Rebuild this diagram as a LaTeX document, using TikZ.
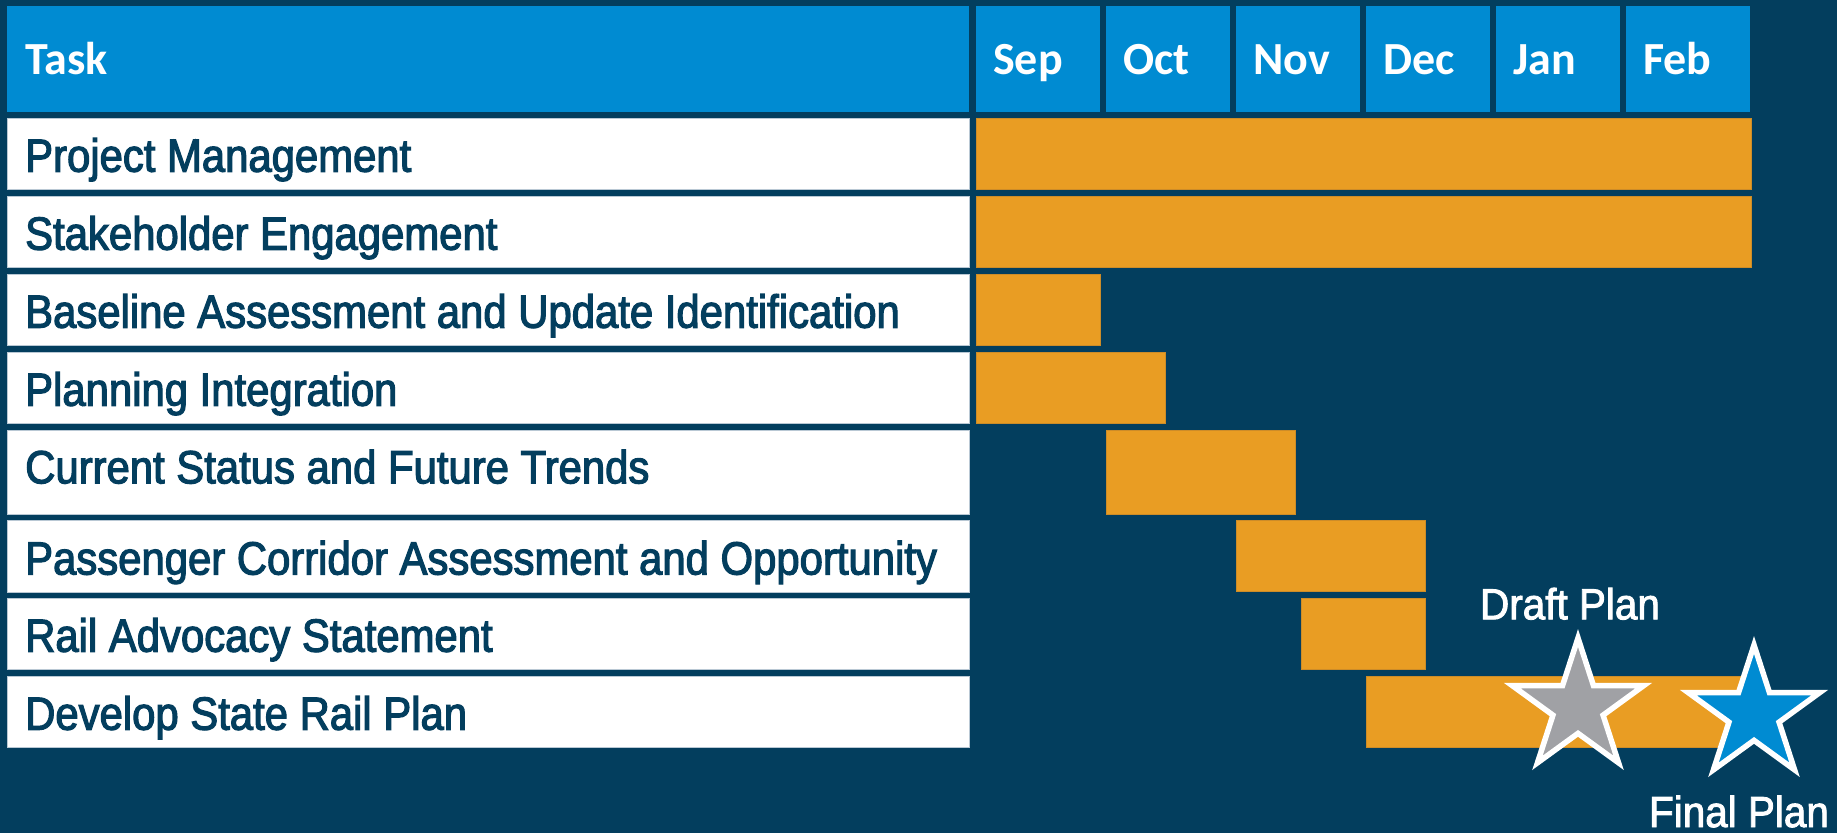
\documentclass[tikz,border=0pt]{standalone}
\usepackage{fontspec}
\setmainfont{Liberation Sans}
\newfontfamily\taskfont[FakeStretch=0.9,FakeBold=2.5]{Liberation Sans}
\newfontfamily\labfont[FakeStretch=0.93,FakeBold=2]{Liberation Sans}
\newfontfamily\headfont{Carlito}
\usetikzlibrary{shapes.geometric}
\definecolor{bgnavy}{RGB}{3,62,94}
\definecolor{headblue}{RGB}{0,139,210}
\definecolor{barorange}{RGB}{233,157,35}
\definecolor{stargray}{RGB}{160,161,165}
\definecolor{celledge}{RGB}{185,200,212}
\definecolor{baredge}{RGB}{205,140,40}
\tikzset{
  headcell/.style={fill=headblue},
  taskcell/.style={fill=white, draw=celledge, line width=0.8pt},
  gbar/.style={fill=barorange, draw=baredge, line width=0.6pt},
  headtext/.style={anchor=base west, inner sep=0pt, text=white, font=\headfont\bfseries\fontsize{46}{50}\selectfont},
  tasktext/.style={anchor=base west, inner sep=0pt, text=bgnavy, font=\taskfont\fontsize{46.5}{50}\selectfont},
  labtext/.style={anchor=base, inner sep=0pt, text=white, font=\labfont\fontsize{43.5}{48}\selectfont},
  milestone/.style={star, star points=5, star point ratio=2.618, minimum size=138pt, inner sep=0pt, outer sep=0pt, draw=white, line width=5.5pt, miter limit=10}
}
\begin{document}
\begin{tikzpicture}[x=1pt,y=-1pt]
\fill[bgnavy] (0,0) rectangle (1837,833);
\useasboundingbox (0,0) rectangle (1837,833);
% header
\fill[headcell] (7,6) rectangle (969.3,112);
\foreach \i in {0,...,5}{
  \fill[headcell] ({976+130*\i},6) rectangle ({1100+130*\i},112);
}
\node[headtext] (hTask) at (25,74) {Task};
\node[headtext] (hSep) at (993,74) {Sep};
\node[headtext] (hOct) at (1123,74) {Oct};
\node[headtext] (hNov) at (1253,74) {Nov};
\node[headtext] (hDec) at (1383,74) {Dec};
\node[headtext] (hJan) at (1513,74) {Jan};
\node[headtext] (hFeb) at (1643,74) {Feb};
% task cells
\draw[taskcell] (7,118) rectangle (969.3,189.3);
\draw[taskcell] (7,196) rectangle (969.3,267.3);
\draw[taskcell] (7,274) rectangle (969.3,345.7);
\draw[taskcell] (7,352) rectangle (969.3,423.3);
\draw[taskcell] (7,430) rectangle (969.3,514);
\draw[taskcell] (7,520) rectangle (969.3,592);
\draw[taskcell] (7,598) rectangle (969.3,669.7);
\draw[taskcell] (7,676) rectangle (969.3,747.3);
\node[tasktext] (tPM) at (25,171.7) {Project Management};
\node[tasktext] (tSE) at (25,249.7) {Stakeholder Engagement};
\node[tasktext] (tBA) at (25,327.7) {Baseline Assessment and Update Identification};
\node[tasktext] (tPI) at (25,405.7) {Planning Integration};
\node[tasktext] (tCS) at (25,483.3) {Current Status and Future Trends};
\node[tasktext] (tPC) at (25,574.5) {Passenger Corridor Assessment and Opportunity};
\node[tasktext] (tRA) at (25,651.7) {Rail Advocacy Statement};
\node[tasktext] (tDS) at (25,729.7) {Develop State Rail Plan};
% bars
\draw[gbar] (976,118) rectangle (1751,189.3);
\draw[gbar] (976,196) rectangle (1751,267.3);
\draw[gbar] (976,274) rectangle (1100,345.7);
\draw[gbar] (976,352) rectangle (1165,423.3);
\draw[gbar] (1106,430) rectangle (1295,514);
\draw[gbar] (1236,520.3) rectangle (1425.7,591.3);
\draw[gbar] (1301,598.3) rectangle (1425.7,669.3);
\draw[gbar] (1366.3,676) rectangle (1743,747.3);
% milestones
\node[milestone, fill=stargray] (draft) at (1578,707) {};
\node[milestone, fill=headblue] (final) at (1754,714) {};
\node[labtext] (draftlab) at (1570,619.3) {Draft Plan};
\node[labtext] (finallab) at (1739,827) {Final Plan};
\end{tikzpicture}
\end{document}
